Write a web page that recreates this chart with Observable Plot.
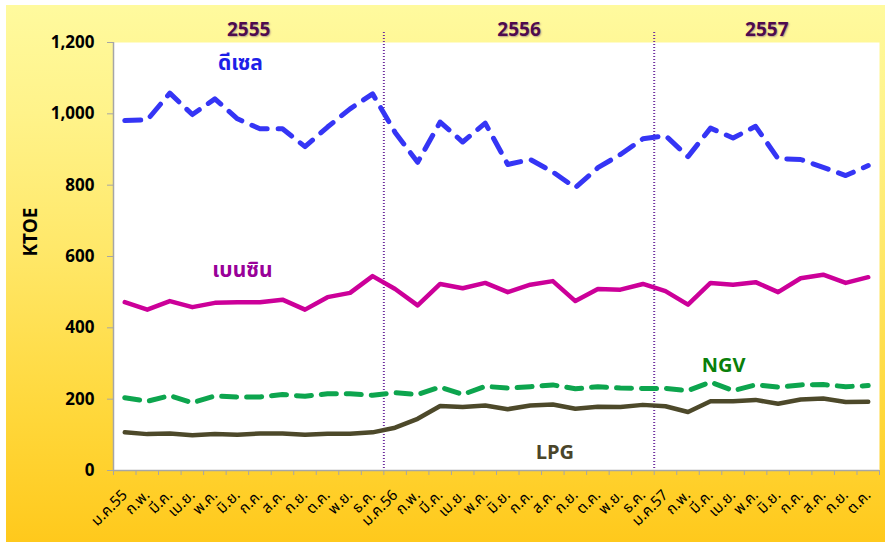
<!DOCTYPE html>
<html><head><meta charset="utf-8">
<script src="https://cdn.jsdelivr.net/npm/d3@7"></script>
<script src="https://cdn.jsdelivr.net/npm/@observablehq/plot@0.6"></script>
<style>
body{margin:0;background:#fff;}
#wrap{position:relative;width:885px;height:542px;overflow:hidden;}
#bg{position:absolute;left:6px;top:5px;right:0;bottom:0;
 background:linear-gradient(180deg,#FFFA9E 0%,#FFF38A 20%,#FFE86A 45%,#FFD83C 75%,#FFC91C 100%);}
#chart{position:absolute;left:0;top:0;}
.yr text{text-shadow:1px 1px 1.5px rgba(110,60,110,0.45);}
</style></head>
<body><div id="wrap"><div id="bg"></div><div id="chart"></div></div>
<script>
const months = ["ม.ค.55","ก.พ.","มี.ค.","เม.ย.","พ.ค.","มิ.ย.","ก.ค.","ส.ค.","ก.ย.","ต.ค.","พ.ย.","ธ.ค.",
  "ม.ค.56","ก.พ.","มี.ค.","เม.ย.","พ.ค.","มิ.ย.","ก.ค.","ส.ค.","ก.ย.","ต.ค.","พ.ย.","ธ.ค.",
  "ม.ค.57","ก.พ.","มี.ค.","เม.ย.","พ.ค.","มิ.ย.","ก.ค.","ส.ค.","ก.ย.","ต.ค."];
const diesel   = [981,983,1058,998,1042,986,958,958,908,963,1014,1056,
                  948,864,977,921,974,858,872,837,793,849,886,930,
                  939,880,960,932,965,874,872,850,827,855];
const gasoline = [472,451,475,458,470,472,472,479,451,486,498,545,
                  509,463,523,511,526,500,521,531,475,509,507,523,
                  503,465,526,521,528,500,539,549,526,542];
const ngv      = [204,194,210,190,209,206,206,213,208,215,215,211,
                  218,213,234,213,236,231,235,240,229,235,231,230,
                  230,224,248,224,240,234,240,241,235,238];
const lpg      = [107,102,104,99,102,100,104,104,100,103,103,107,
                  120,145,181,178,182,172,182,185,173,179,178,184,
                  180,164,194,194,198,187,199,202,192,193];
const years = ["2555","2556","2557"];
const yearStart = [0,12,24];
const yearEnd = [12,24,34];
const yTicks = [0,200,400,600,800,1000,1200];

const rows = months.map((m,k)=>({i:k+0.5, m, diesel:diesel[k], gasoline:gasoline[k], ngv:ngv[k], lpg:lpg[k]}));
const FONT = "Tahoma, 'Noto Sans Thai', 'Leelawadee UI', 'DejaVu Sans', 'Noto Sans', sans-serif";

const chart = Plot.plot({
  width: 885, height: 542,
  marginLeft: 113, marginRight: 6, marginTop: 42, marginBottom: 72,
  style: {background: "transparent", fontFamily: FONT, overflow: "visible"},
  x: {domain: [0, months.length], axis: null},
  y: {domain: [0, 1200], axis: null},
  marks: [
    Plot.frame({fill: "white", stroke: "none"}),
    Plot.ruleX(yearStart.slice(1), {x: d=>d, stroke: "#7030A0", strokeWidth: 2, strokeDasharray: "1,2", insetTop: -10}),
    Plot.line(rows, {x: "i", y: "lpg", stroke: "#4D492A", strokeWidth: 4.5}),
    Plot.line(rows, {x: "i", y: "ngv", stroke: "#0DA54E", strokeWidth: 5, strokeDasharray: "15,10", strokeLinecap: "round"}),
    Plot.line(rows, {x: "i", y: "gasoline", stroke: "#CC0099", strokeWidth: 4.5}),
    Plot.line(rows, {x: "i", y: "diesel", stroke: "#3535F5", strokeWidth: 5, strokeDasharray: "16,11", strokeLinecap: "round"}),
    Plot.ruleX([0], {stroke: "#A6A6A6", strokeWidth: 1.5}),
    Plot.ruleY([0], {stroke: "#A6A6A6", strokeWidth: 1.5}),
    Plot.axisY({ticks: yTicks, tickFormat: d3.format(","), tickSize: 6, tickPadding: 13, stroke: "#A6A6A6", fill: "black",
      fontSize: 17, fontWeight: "bold", label: null}),
    Plot.axisX({ticks: d3.range(months.length + 1), tickFormat: () => "", tickSize: 5, stroke: "#A6A6A6", label: null}),
    Plot.axisX({ticks: rows.map(d=>d.i), tickFormat: d => months[Math.floor(d)], tickRotate: -45, tickSize: 0, tickPadding: 22,
      fontSize: 15, fill: "black", label: null}),
    Plot.text(["KTOE"], {frameAnchor: "left", dx: -83, rotate: -90, fontSize: 19, fontWeight: "bold", fill: "black"}),
    Plot.text(years, {x: (d,k)=>(yearStart[k]+yearEnd[k])/2, frameAnchor: "top", dy: -20, fontSize: 19, fontWeight: "bold", fill: "#4E0B4E", className: "yr"}),
    Plot.text([rows[5]], {x: "i", y: "diesel", text: ()=>"ดีเซล", dx: 3, dy: -56, fontSize: 21, fontWeight: "bold", fill: "#1F1FE8"}),
    Plot.text([rows[5]], {x: "i", y: "gasoline", text: ()=>"เบนซิน", dx: 5, dy: -32, fontSize: 21, fontWeight: "bold", fill: "#990099"}),
    Plot.text([rows[26]], {x: "i", y: "ngv", text: ()=>"NGV", dx: 13, dy: -16, fontSize: 20, fontWeight: "bold", fill: "#0A7F0A"}),
    Plot.text([rows[19]], {x: "i", y: "lpg", text: ()=>"LPG", dx: 2, dy: 48, fontSize: 20, fontWeight: "bold", fill: "#4A452A"})
  ]
});
document.getElementById("chart").appendChild(chart);
</script>
</body></html>
